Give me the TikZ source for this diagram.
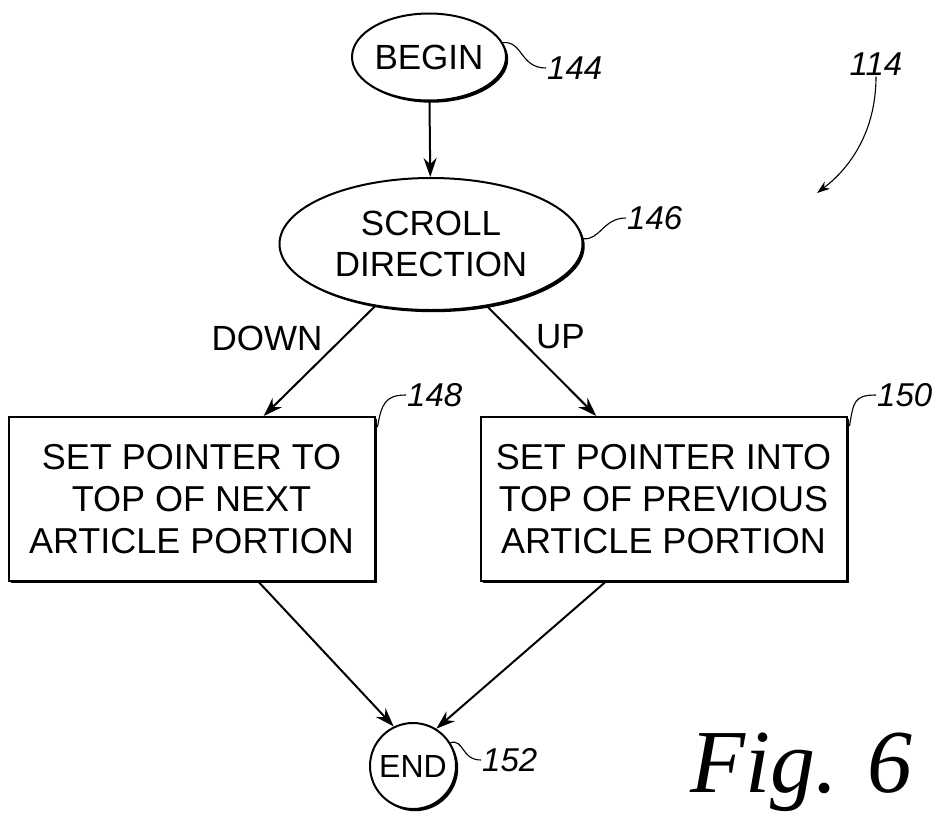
\documentclass[tikz,border=0pt]{standalone}
\usepackage{fontspec}
\setmainfont{Liberation Sans}
\newfontfamily\figfont{Liberation Serif}
\usepackage{tikz}
\usetikzlibrary{shapes.geometric, arrows.meta, shadows, calc}
\tikzstyle{arrow} = [line width=2pt,-{Stealth[length=19pt,width=13pt]}]
\tikzstyle{term} = [ellipse, draw, line width=2pt, fill=white, inner sep=0pt, align=center, font=\fontsize{35}{41}\selectfont, general shadow={fill=black, shadow xshift=2.2pt, shadow yshift=-2.2pt}]
\tikzstyle{process} = [rectangle, draw, line width=2pt, fill=white, minimum width=366pt, minimum height=164pt, align=center, font=\fontsize{36}{42}\selectfont, general shadow={fill=black, shadow xshift=2.2pt, shadow yshift=-2.2pt}]
\tikzstyle{branch} = [font=\fontsize{35}{40}\selectfont]
\tikzstyle{lead} = [line width=1.1pt]
\tikzstyle{refnum} = [anchor=west, inner sep=1pt, font=\fontsize{33}{36}\selectfont\itshape]

\begin{document}
\begin{tikzpicture}[x=1pt, y=-1pt]
        \useasboundingbox (0,0) rectangle (936,817);
        \node[term, minimum width=152pt, minimum height=87pt] (begin) at (429,57) {BEGIN};
        \node[term, minimum width=303pt, minimum height=132pt] (scroll) at (431,244) {SCROLL\\DIRECTION};
        \node[process] (next) at (191.5,499) {SET POINTER TO\\TOP OF NEXT\\ARTICLE PORTION};
        \node[process] (prev) at (663.5,499) {SET POINTER INTO\\TOP OF PREVIOUS\\ARTICLE PORTION};
        \node[term, circle, minimum size=86pt, font=\fontsize{32}{36}\selectfont] (end) at (413,766) {END};

        \draw[arrow] (begin) -- (scroll);
        \draw[arrow] (scroll.228) -- node[branch, pos=0.29, left=16pt] {DOWN} (next.49);
        \draw[arrow] (scroll.-48) -- node[branch, pos=0.28, right=14pt] {UP} (prev.129);
        \draw[arrow] (next.-51) -- (end.116);
        \draw[arrow] (prev.235) -- (end.58);

        \node[refnum] (n144) at (546,68) {144};
        \node[refnum] (n146) at (626,218) {146};
        \node[refnum] (n148) at (406,395) {148};
        \node[refnum] (n150) at (876,395) {150};
        \node[refnum] (n152) at (481,760) {152};
        \node[refnum, anchor=center] (n114) at (876,64) {114};
        \coordinate (c114) at (817,193);

        \draw[lead] (begin.11) .. controls +(20,-2) and +(-26,0) .. (n144.west);
        \draw[lead] (scroll.2) .. controls +(17,2) and +(-23,0) .. (n146.west);
        \draw[lead] ($(next.north east)+(2,11)$) .. controls +(4,-24) and +(-20,0) .. (n148.west);
        \draw[lead] ($(prev.north east)+(2,10)$) .. controls +(4,-24) and +(-22,0) .. (n150.west);
        \draw[lead] (end.32) .. controls +(14,-4) and +(-20,0) .. (n152.west);
        \draw[lead, -{Stealth[length=13pt,width=9pt]}] (n114.south) .. controls +(0,55) and (850,168) .. (c114);

        \node[anchor=base west, inner sep=0pt, font=\figfont\itshape\fontsize{90}{96}\selectfont] (fig) at (690,792) {Fig. 6};
    \end{tikzpicture}
\end{document}
